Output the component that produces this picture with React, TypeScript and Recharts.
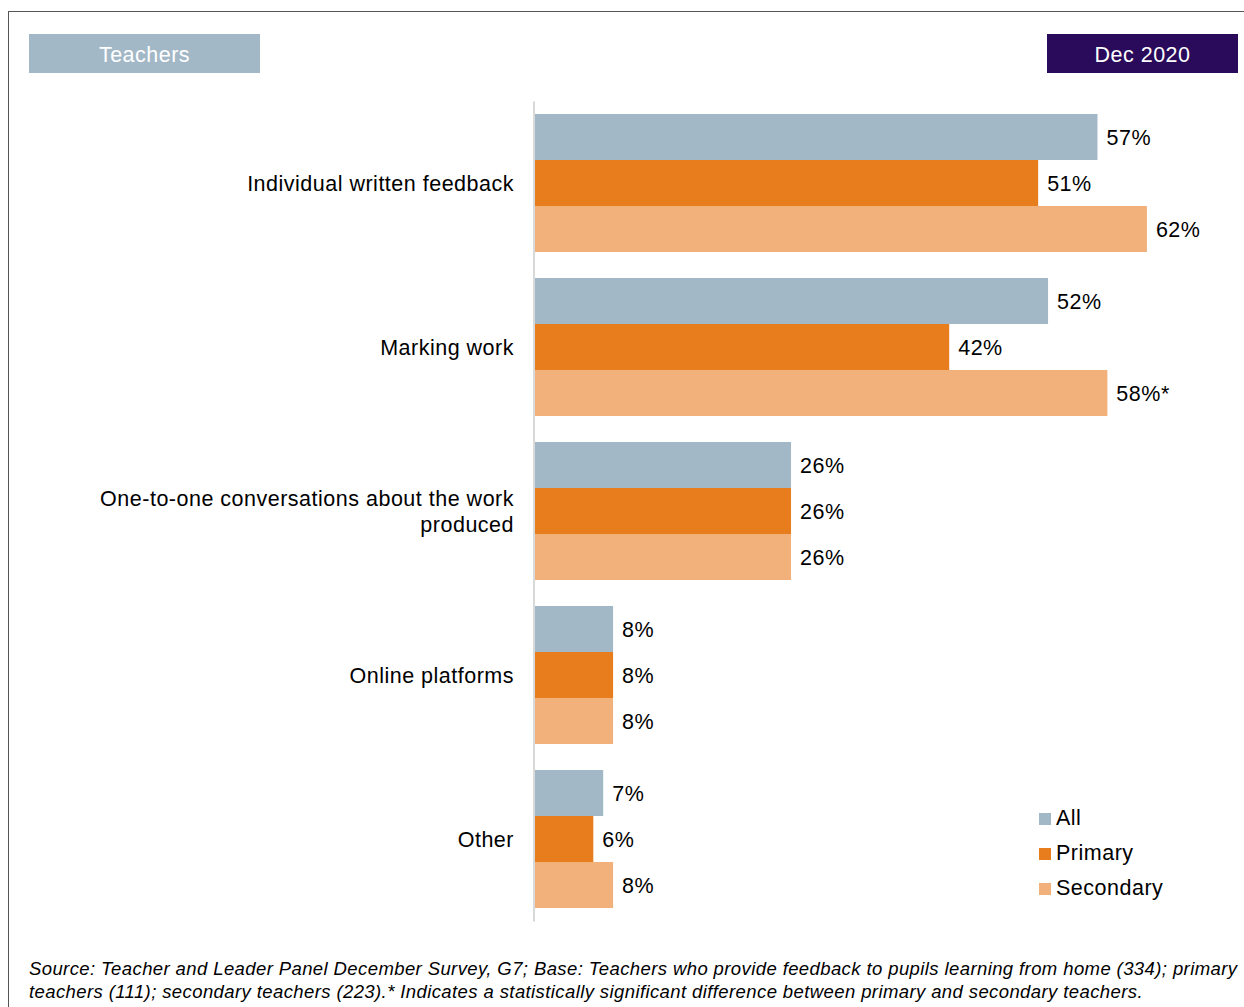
import React from "react";
import { BarChart, Bar, XAxis, YAxis, LabelList } from "recharts";

const categories = [
  "Individual written feedback",
  "Marking work",
  "One-to-one conversations about the work produced",
  "Online platforms",
  "Other",
];
const categoryLines = [
  ["Individual written feedback"],
  ["Marking work"],
  ["One-to-one conversations about the work", "produced"],
  ["Online platforms"],
  ["Other"],
];
const allValues = [57, 52, 26, 8, 7];
const primaryValues = [51, 42, 26, 8, 6];
const secondaryValues = [62, 58, 26, 8, 8];
const secondaryLabels = ["62%", "58%*", "26%", "8%", "8%"];

const seriesNames = ["All", "Primary", "Secondary"];
const colors = ["#a2b8c7", "#e87d1e", "#f2b07a"];

const data = categories.map((c, i) => ({
  category: c,
  all: allValues[i],
  primary: primaryValues[i],
  secondary: secondaryValues[i],
  allLabel: allValues[i] + "%",
  primaryLabel: primaryValues[i] + "%",
  secondaryLabel: secondaryLabels[i],
}));

const FONT = "'Liberation Sans', Arial, sans-serif";
const LS = 0.5;

const CategoryTick = (props: any) => {
  const { x, y, payload } = props;
  const idx = categories.indexOf(payload.value);
  const lines = categoryLines[idx] || [payload.value];
  const lh = 26;
  const start = y - ((lines.length - 1) * lh) / 2;
  return (
    <text x={x} y={start} textAnchor="end" fontSize={21.5} fontFamily={FONT} fill="#000" style={{ letterSpacing: LS }}>
      {lines.map((l: string, i: number) => (
        <tspan key={i} x={x} y={start + i * lh} dy="0.35em">
          {l}
        </tspan>
      ))}
    </text>
  );
};

const labelStyle = { letterSpacing: LS };

export default function App() {
  return (
    <div style={{ position: "absolute", left: 0, top: 0, width: 1244, height: 1007, background: "#fff", fontFamily: FONT, overflow: "hidden" }}>
      <div style={{ position: "absolute", left: 8, top: 11, width: 1240, height: 1000, borderLeft: "1.5px solid #555", borderTop: "1.5px solid #555" }} />
      <div style={{ position: "absolute", left: 29, top: 34, width: 231, height: 39, boxSizing: "border-box", paddingTop: 3, background: "#a2b8c7", color: "#fff", fontSize: 21.5, letterSpacing: LS, display: "flex", alignItems: "center", justifyContent: "center" }}>
        Teachers
      </div>
      <div style={{ position: "absolute", left: 1047, top: 34, width: 191, height: 39, boxSizing: "border-box", paddingTop: 3, background: "#2a0a5a", color: "#fff", fontSize: 21.5, letterSpacing: LS, display: "flex", alignItems: "center", justifyContent: "center" }}>
        Dec 2020
      </div>
      <div style={{ position: "absolute", left: 0, top: 0 }}>
        <BarChart
          width={1244}
          height={1007}
          data={data}
          layout="vertical"
          margin={{ top: 101.5, right: 18, bottom: 85.5, left: 0 }}
          barCategoryGap={12.4}
          barGap={0}
        >
          <XAxis type="number" domain={[0, 70]} hide />
          <YAxis
            type="category"
            dataKey="category"
            width={534}
            axisLine={{ stroke: "#d9d9d9", strokeWidth: 2 }}
            tickLine={false}
            tickSize={6}
            tickMargin={14}
            tick={<CategoryTick />}
            interval={0}
          />
          <Bar dataKey="all" name={seriesNames[0]} fill={colors[0]} isAnimationActive={false}>
            <LabelList dataKey="allLabel" position="right" offset={9} fontSize={21.5} fontFamily={FONT} fill="#000" style={labelStyle} />
          </Bar>
          <Bar dataKey="primary" name={seriesNames[1]} fill={colors[1]} isAnimationActive={false}>
            <LabelList dataKey="primaryLabel" position="right" offset={9} fontSize={21.5} fontFamily={FONT} fill="#000" style={labelStyle} />
          </Bar>
          <Bar dataKey="secondary" name={seriesNames[2]} fill={colors[2]} isAnimationActive={false}>
            <LabelList dataKey="secondaryLabel" position="right" offset={9} fontSize={21.5} fontFamily={FONT} fill="#000" style={labelStyle} />
          </Bar>
        </BarChart>
      </div>
      <div style={{ position: "absolute", left: 1039, top: 801 }}>
        {seriesNames.map((n, i) => (
          <div key={n} style={{ display: "flex", alignItems: "center", height: 35, fontSize: 21.5, letterSpacing: LS, color: "#000" }}>
            <span style={{ display: "inline-block", width: 12, height: 12, background: colors[i], marginRight: 5 }} />
            {n}
          </div>
        ))}
      </div>
      <div style={{ position: "absolute", left: 29, top: 957, width: 1215, fontSize: 18.5, letterSpacing: 0.4, fontStyle: "italic", lineHeight: "23px", color: "#000", whiteSpace: "nowrap" }}>
        <div>Source: Teacher and Leader Panel December Survey, G7; Base: Teachers who provide feedback to pupils learning from home (334); primary</div>
        <div>teachers (111); secondary teachers (223).* Indicates a statistically significant difference between primary and secondary teachers.</div>
      </div>
    </div>
  );
}
